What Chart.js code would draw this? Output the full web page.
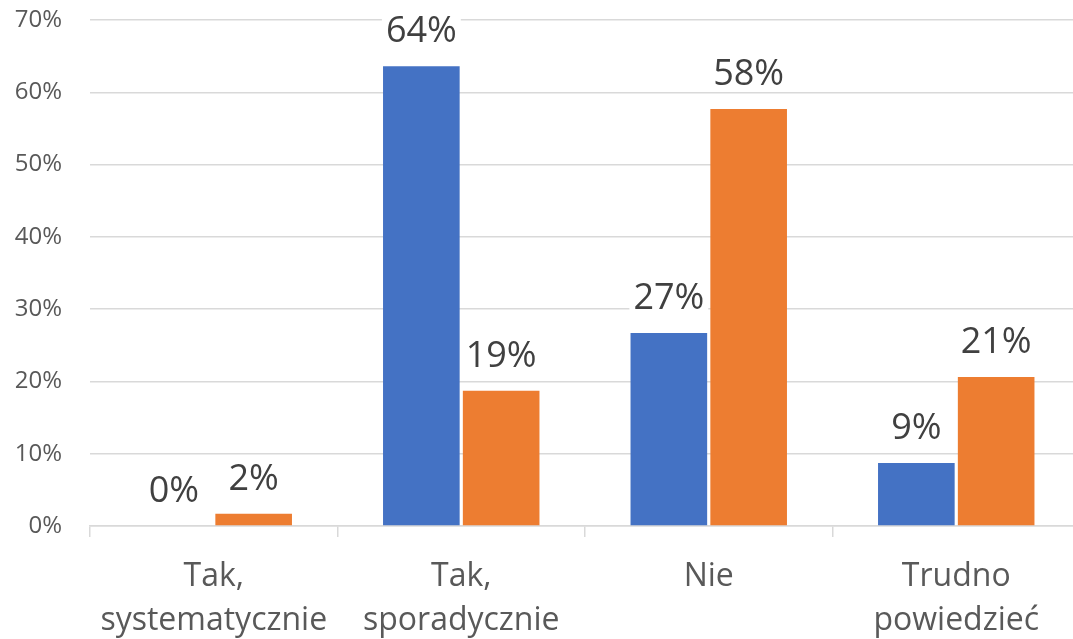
<!DOCTYPE html>
<html>
<head>
<meta charset="utf-8">
<script src="https://cdn.jsdelivr.net/npm/chart.js@4/dist/chart.umd.min.js"></script>
<style>
    html, body { margin: 0; padding: 0; overflow: hidden; background: #fff; }
    #wrap { width: 1080px; height: 639px; }
</style>
</head>
<body>
<div id="wrap"><canvas id="chart" width="1080" height="639"></canvas></div>
<script>
const categories = [['Tak,', 'systematycznie'], ['Tak,', 'sporadycznie'], 'Nie', ['Trudno', 'powiedzieć']];
const seriesBlue = [0, 63.6, 26.7, 8.7];
const seriesOrange = [1.7, 18.7, 57.7, 20.6];
const yTicks = [0, 10, 20, 30, 40, 50, 60, 70];

const FONT = '"Open Sans", "DejaVu Sans", sans-serif';

// etykiety nad słupkami, z białym tłem (przerywa linie siatki)
const barLabels = {
    id: 'barLabels',
    afterDatasetsDraw(chart) {
        const ctx = chart.ctx;
        ctx.save();
        ctx.font = '36px ' + FONT;
        ctx.textAlign = 'center';
        ctx.textBaseline = 'alphabetic';
        chart.data.datasets.forEach((ds, i) => {
            chart.getDatasetMeta(i).data.forEach((bar, j) => {
                const text = Math.round(ds.data[j]) + '%';
                const w = ctx.measureText(text).width;
                const cy = bar.y - 37;
                ctx.fillStyle = '#ffffff';
                ctx.fillRect(bar.x - w / 2 - 4, cy - 20, w + 8, 40);
                ctx.fillStyle = '#404040';
                ctx.fillText(text, bar.x, cy + 13);
            });
        });
        ctx.restore();
    }
};

new Chart(document.getElementById('chart'), {
    type: 'bar',
    data: {
        labels: categories,
        datasets: [
            {data: seriesBlue, backgroundColor: '#4472C4', categoryPercentage: 0.645, barPercentage: 0.96},
            {data: seriesOrange, backgroundColor: '#ED7D31', categoryPercentage: 0.645, barPercentage: 0.96}
        ]
    },
    options: {
        responsive: false,
        animation: false,
        layout: {padding: {top: 20, left: 0, right: 0, bottom: 0}},
        scales: {
            x: {
                offset: true,
                grid: {
                    offset: true,
                    drawOnChartArea: false,
                    drawTicks: true,
                    tickLength: 11,
                    color: '#d9d9d9',
                    lineWidth: 1.5
                },
                border: {display: true, color: '#d9d9d9', width: 1.5},
                ticks: {
                    color: '#595959',
                    padding: 18,
                    maxRotation: 0,
                    font: {family: FONT, size: 32, lineHeight: 1.375}
                },
                afterFit: (axis) => {
                    axis.height = 113;
                    axis.paddingLeft = 0;
                    axis.paddingRight = 0;
                }
            },
            y: {
                min: 0,
                max: 70,
                afterBuildTicks: (axis) => { axis.ticks = yTicks.map(v => ({value: v})); },
                grid: {color: '#d9d9d9', lineWidth: 1.5, drawTicks: false},
                border: {display: false},
                ticks: {
                    color: '#595959',
                    padding: 28,
                    font: {family: FONT, size: 24},
                    callback: (v) => v + '%'
                },
                afterFit: (axis) => {
                    axis.width = 90;
                    axis.paddingTop = 0;
                    axis.paddingBottom = 0;
                }
            }
        },
        plugins: {
            legend: {display: false},
            tooltip: {enabled: false}
        }
    },
    plugins: [barLabels]
});
</script>
</body>
</html>
